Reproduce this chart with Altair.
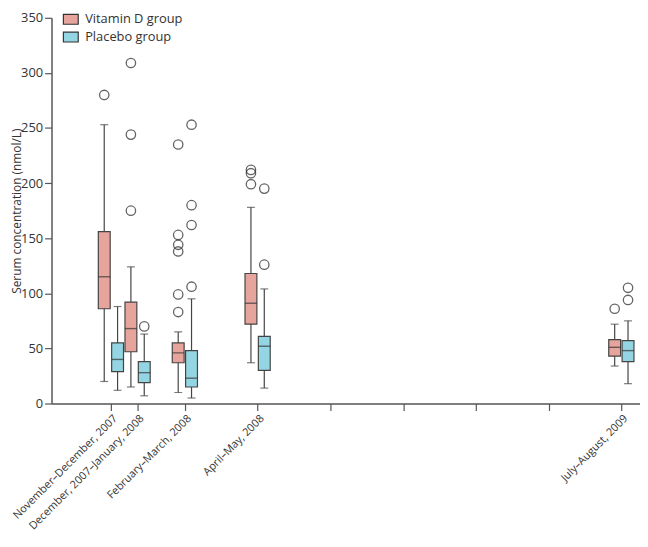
import altair as alt
import pandas as pd

# ---- data ----
groups = ["Vitamin D group", "Placebo group"]
periods = ["November–December, 2007", "December, 2007–January, 2008",
           "February–March, 2008", "April–May, 2008", "July–August, 2009"]
period_month = [2.25, 3.35, 5.3, 8.3, 23.3]       # months since Sept 2007 (axis position)
extra_ticks = [11.3, 14.3, 17.3, 20.3]             # unlabelled quarterly ticks

vitd_low = [20, 15, 10, 37, 34]
vitd_q1 = [86, 47, 37, 72, 43]
vitd_med = [115, 68, 46, 91, 51]
vitd_q3 = [156, 92, 55, 118, 58]
vitd_high = [253, 124, 65, 178, 72]
vitd_outliers = [[280], [309, 244, 175], [235, 153, 144, 138, 99, 83], [212, 209, 199], [86]]

plac_low = [12, 7, 5, 14, 18]
plac_q1 = [29, 19, 15, 30, 38]
plac_med = [40, 28, 23, 52, 48]
plac_q3 = [55, 38, 48, 61, 57]
plac_high = [88, 63, 95, 104, 75]
plac_outliers = [[], [70], [253, 180, 162, 106], [195, 126], [105, 94]]

y_ticks = [0, 50, 100, 150, 200, 250, 300, 350]

# ---- build tables ----
rows, outs = [], []
for g, lo, q1, md, q3, hi, ol in [
    (groups[0], vitd_low, vitd_q1, vitd_med, vitd_q3, vitd_high, vitd_outliers),
    (groups[1], plac_low, plac_q1, plac_med, plac_q3, plac_high, plac_outliers),
]:
    for i, p in enumerate(periods):
        rows.append(dict(group=g, period=p, t=period_month[i], low=lo[i], q1=q1[i],
                         med=md[i], q3=q3[i], high=hi[i]))
        for v in ol[i]:
            outs.append(dict(group=g, period=p, t=period_month[i], value=v))
box_df = pd.DataFrame(rows)
out_df = pd.DataFrame(outs)

pink = "#e6a49d"
blue = "#94d5e3"
ink = "#333333"
font = "Open Sans"

all_ticks = period_month + extra_ticks
label_expr = " : ".join(
    [f"datum.value == {m} ? '{p}'" for m, p in zip(period_month, periods)]) + " : ''"

shift = "datum.t + (datum.group == 'Vitamin D group' ? -0.28 : 0.27)"

x = alt.X("xp:Q",
          scale=alt.Scale(domain=[0, 23.86], nice=False, zero=False),
          axis=alt.Axis(values=all_ticks, labelExpr=label_expr, title=None,
                        labelAngle=-45, labelAlign="right", labelBaseline="top",
                        labelPadding=2, tickSize=7, tickColor="#555", domainColor="#555",
                        domainWidth=1.5, tickWidth=1.2, labelFontSize=11,
                        labelColor=ink, labelFont=font, grid=False, labelOverlap=False,
                        labelBound=False, labelFlush=False, labelLimit=400))
yscale = alt.Scale(domain=[0, 350], nice=False)
yaxis = alt.Axis(values=y_ticks, title="Serum concentration (nmol/L)", grid=False,
                 tickSize=7, tickColor="#555", domainColor="#555", domainWidth=1.5,
                 tickWidth=1.2, labelFontSize=13, labelColor=ink, labelFont=font,
                 labelPadding=2,
                 titleFont=font, titleFontSize=12, titleFontWeight="normal",
                 titleColor=ink, titleX=-40, titleY=195, titleAngle=270,
                 titleAlign="center", titleBaseline="top")

color = alt.Color("group:N",
                  scale=alt.Scale(domain=groups, range=[pink, blue]),
                  legend=alt.Legend(title=None, orient="none", legendX=11, legendY=-7,
                                    padding=0, symbolType="M-1,-0.667H1V0.667H-1Z",
                                    symbolSize=225,
                                    symbolStrokeColor=ink, symbolStrokeWidth=1.2,
                                    labelFont=font, labelFontSize=13, labelColor=ink,
                                    rowPadding=2, labelOffset=6))

base = alt.Chart(box_df).transform_calculate(xp=shift)

whisker = base.mark_rule(color="#444", strokeWidth=1.2).encode(
    x=x, y=alt.Y("low:Q", scale=yscale, axis=yaxis), y2="high:Q")
cap_lo = base.mark_tick(orient="horizontal", size=8, thickness=1.2, color="#444").encode(
    x=x, y=alt.Y("low:Q", scale=yscale))
cap_hi = base.mark_tick(orient="horizontal", size=8, thickness=1.2, color="#444").encode(
    x=x, y=alt.Y("high:Q", scale=yscale))
box = base.mark_bar(size=12, stroke="#444", strokeWidth=1.2, opacity=1).encode(
    x=x, y=alt.Y("q1:Q", scale=yscale), y2="q3:Q", color=color)
median = base.mark_tick(orient="horizontal", size=12, thickness=1.4, color="#333").encode(
    x=x, y=alt.Y("med:Q", scale=yscale))

points = alt.Chart(out_df).transform_calculate(xp=shift).mark_point(
    shape="circle", size=90, filled=False, color="#222", strokeWidth=1.3).encode(
    x=x, y=alt.Y("value:Q", scale=yscale))

chart = alt.layer(whisker, cap_lo, cap_hi, box, median, points).properties(
    width=595, height=390,
    autosize=alt.AutoSizeParams(type="none"),
    padding={"left": 44, "top": 7, "right": 0, "bottom": 127},
).configure_view(stroke=None)

chart.save("out.html", embed_options={"renderer": "svg", "actions": False})
